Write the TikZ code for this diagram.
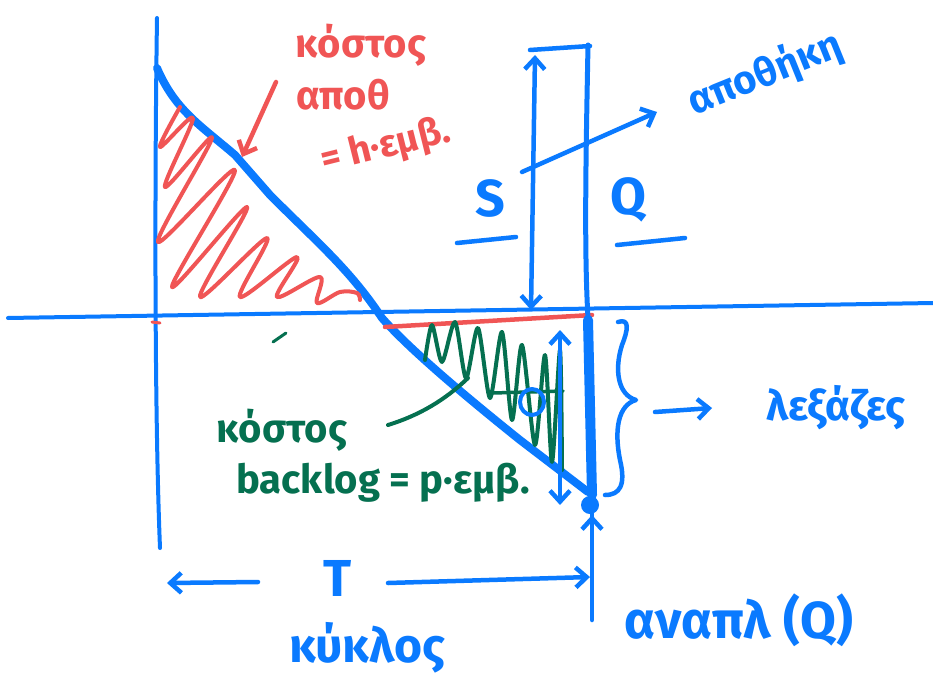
\documentclass[tikz,border=0pt]{standalone}
\usepackage{fontspec}
\setmainfont{Fira Sans}
\usetikzlibrary{arrows.meta}
\definecolor{pblue}{RGB}{10,122,255}
\definecolor{pred}{RGB}{240,85,85}
\definecolor{pgreen}{RGB}{5,112,80}
\tikzset{
  pen/.style={line width=4.5pt,line cap=round,line join=round},
  bpen/.style={pen,draw=pblue},
  rpen/.style={pen,draw=pred},
  gpen/.style={pen,draw=pgreen},
  barb/.style={-{Straight Barb[length=11pt,width=20pt,line width=4.5pt]}},
  dbarb/.style={{Straight Barb[length=11pt,width=20pt,line width=4.5pt]}-{Straight Barb[length=11pt,width=20pt,line width=4.5pt]}},
  lbl/.style={inner sep=0pt,font=\fontsize{#1}{#1}\selectfont\bfseries},
}
\begin{document}
\begin{tikzpicture}[x=1pt,y=-1pt]
\useasboundingbox[fill=white] (0,0) rectangle (933,674);
% axes
\coordinate (axL) at (8,318);
\coordinate (axR) at (933,303);
\draw[bpen,line width=4pt] (axL) -- (axR);
\coordinate (vT) at (157,18);
\coordinate (vB) at (160,548);
\draw[bpen,line width=4pt] (vT) .. controls (155,150) and (154,400) .. (vB);
% inventory line
\draw[bpen,line width=8pt] (157,68) .. controls (175,110) and (200,125) .. (235,155)
  -- (270,195) .. controls (320,245) and (350,270) .. (382,318)
  .. controls (410,350) and (470,400) .. (520,440) -- (588,492);
% red hatch
\draw[rpen,line width=4pt] plot[smooth,tension=0.55] coordinates {
 (180,107) (160,147) (193,118) (165,187) (212,138) (158,242) (235,170) (172,287)
 (247,207) (200,297) (267,238) (240,297) (297,257) (277,297) (320,277) (317,303)
 (340,292) (357,293) (360,300)};
% red arrow
\coordinate (ra1) at (276,82);
\coordinate (ra2) at (242,157);
\draw[rpen,barb] (ra1) -- (ra2);
% red base lines
\draw[rpen,line width=4.5pt] (385,327) -- (592,315);
\draw[rpen,line width=3pt] (152,322) -- (160,323);
% green tick
\draw[gpen,line width=3pt] (273,342) -- (286,333);
% green hatch
\draw[gpen,line width=4pt] plot[smooth,tension=0.45] coordinates {
 (425,360) (432,325) (442,362) (455,322) (466,378) (478,328) (490,398) (502,332)
 (512,420) (522,345) (535,445) (545,355) (552,462) (560,350) (562,470)};
\draw[gpen,line width=3.5pt] (493,393) -- (563,391);
% green pointer
\coordinate (gp1) at (388,425);
\coordinate (gp2) at (468,378);
\draw[gpen,line width=4pt] (gp1) .. controls (420,415) and (445,400) .. (gp2);
% blue circle
\draw[bpen,line width=4pt] (532,402) ellipse (12pt and 13pt);
% tall vertical Q line
\draw[bpen,line width=5pt] (588,45) .. controls (586,150) and (584,250) .. (588,318);
\draw[bpen,line width=10pt] (588,320) -- (592,495);
\draw[bpen,line width=4.5pt] (592,620) -- (592,510);
\draw[bpen,barb] (592,560) -- (592,515);
\fill[pblue] (590,505) circle (9pt);
% top bar and S arrow
\draw[bpen] (530,50) -- (590,46);
\draw[bpen,dbarb] (535,55) -- (531,310);
% pointer to storage
\coordinate (ap1) at (522,172);
\coordinate (ap2) at (657,112);
\draw[bpen,barb] (ap1) -- (ap2);
% S and Q
\node[lbl=52,text=pblue] (S) at (490,198) {S};
\draw[bpen] (457,243) -- (516,237);
\node[lbl=52,text=pblue] (Q) at (628,200) {Q};
\draw[bpen] (617,245) -- (685,238);
% backlog height arrow
\draw[bpen,dbarb] (560,330) -- (560,505);
% brace
\draw[bpen] (618,322) .. controls (630,318) and (628,330) .. (622,345)
  .. controls (614,370) and (618,395) .. (636,400)
  .. controls (618,405) and (614,430) .. (620,460)
  .. controls (626,485) and (620,495) .. (605,495);
% arrow to shortages
\coordinate (sa1) at (655,412);
\coordinate (sa2) at (712,408);
\draw[bpen,barb] (sa1) -- (sa2);
% T arrows
\coordinate (t1) at (258,582);
\coordinate (t2) at (167,583);
\draw[bpen,barb] (t1) -- (t2);
\coordinate (t3) at (388,583);
\coordinate (t4) at (590,577);
\draw[bpen,barb] (t3) -- (t4);
% texts
\node[lbl=40,text=pred] (k1) at (361,45) {κόστος};
\node[lbl=40,text=pred] (k2) at (343,95) {αποθ};
\node[lbl=38,text=pred,rotate=14] (k3) at (386,147) {= h·εμβ.};
\node[lbl=40,text=pblue,rotate=22] (apo) at (765,74) {αποθήκη};
\node[lbl=42,text=pblue] (ell) at (836,408) {λεξάζες};
\node[lbl=40,text=pgreen] (g1) at (282,430) {κόστος};
\node[lbl=40,text=pgreen] (g2) at (383,483) {backlog = p·εμβ.};
\node[lbl=52,text=pblue] (T) at (338,578) {T};
\node[lbl=48,text=pblue] (cyc) at (367,648) {κύκλος};
\node[lbl=52,text=pblue] (rep) at (739,620) {αναπλ (Q)};
\end{tikzpicture}
\end{document}
